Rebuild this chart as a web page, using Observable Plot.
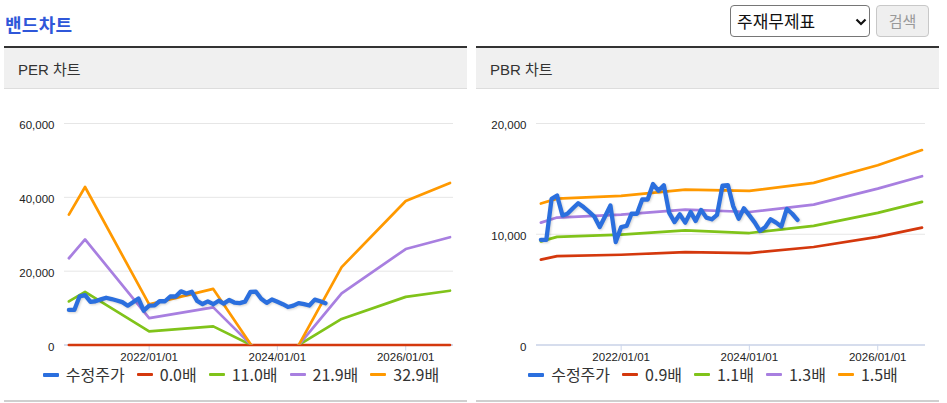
<!DOCTYPE html>
<html><head><meta charset="utf-8">
<script src="https://cdn.jsdelivr.net/npm/d3@7"></script>
<script src="https://cdn.jsdelivr.net/npm/@observablehq/plot@0.6"></script>
<style>
body{margin:0;width:947px;height:403px;position:relative;overflow:hidden;background:#fff;font-family:"Noto Sans CJK KR","Noto Sans",sans-serif;}
.title{position:absolute;left:5px;top:9px;font-size:18px;font-weight:bold;color:#2f57d9;line-height:30px;letter-spacing:0.3px}
.sel{position:absolute;left:730px;top:5px;width:138px;height:30px;border:1px solid #767676;border-radius:4px;box-sizing:content-box;font-size:17px;line-height:30px;color:#111;}
.sel span{position:absolute;left:6px;top:0}
.sel svg{position:absolute;left:124px;top:12px}
.btn{position:absolute;left:876px;top:5px;width:51px;height:30px;border:1px solid #c8c8c8;border-radius:4px;background:#efefef;color:#999;font-size:15px;line-height:30px;text-align:center;box-sizing:content-box}
.panel{position:absolute;top:46px;width:463px;height:354px;border-bottom:2px solid #cfcfcf}
.phead{height:40px;border-top:2px solid #333;background:#f0f0f0;border-bottom:1px solid #ddd;font-size:15px;color:#333;line-height:43px;padding-left:14px;font-family:"Liberation Sans","Noto Sans CJK KR",sans-serif}
.chart{position:absolute;left:0;top:43px}
.legend{position:absolute;left:0;top:320px;width:463px;height:17px;display:flex;justify-content:center;align-items:center;padding-left:11px;box-sizing:border-box;font-size:16px;color:#333;line-height:17px;white-space:nowrap}
.legend .it{display:flex;align-items:center;margin-right:12px;height:17px}
.legend .it:last-child{margin-right:0}
.legend i{display:inline-block;width:16px;height:3px;margin-right:7px;border-radius:1px}
</style>
</head><body>
<div class="title">밴드차트</div>
<div class="sel"><span>주재무제표</span><svg width="12" height="8" viewBox="0 0 12 8"><path d="M1.5 1.5 L6 6 L10.5 1.5" fill="none" stroke="#111" stroke-width="2.2"/></svg></div>
<div class="btn">검색</div>
<div class="panel" id="p1" style="left:4px"><div class="phead">PER 차트</div><div class="chart" id="c1"></div><div class="legend" id="l1"></div></div>
<div class="panel" id="p2" style="left:476px"><div class="phead">PBR 차트</div><div class="chart" id="c2"></div><div class="legend" id="l2"></div></div>
<script>
// ---- data ----
const priceMonths = ["2020-10","2020-11","2020-12",
 "2021-01","2021-02","2021-03","2021-04","2021-05","2021-06","2021-07","2021-08","2021-09","2021-10","2021-11","2021-12",
 "2022-01","2022-02","2022-03","2022-04","2022-05","2022-06","2022-07","2022-08","2022-09","2022-10","2022-11","2022-12",
 "2023-01","2023-02","2023-03","2023-04","2023-05","2023-06","2023-07","2023-08","2023-09","2023-10","2023-11","2023-12",
 "2024-01","2024-02","2024-03","2024-04","2024-05","2024-06","2024-07","2024-08","2024-09","2024-10"];
const priceVals = [9500,9500,13200,13500,11700,11850,12350,12800,12450,12050,11600,10650,11600,12600,9300,
 10650,10750,11850,11850,13140,13140,14530,13930,14430,11950,11100,11800,
 11050,12000,11200,12200,11500,11350,11750,14380,14430,12540,11400,12340,
 11700,11050,10300,10650,11350,11050,10700,12290,11850,11300];

const bandDates = ["2020-10-01","2021-01-01","2022-01-01","2023-01-01","2024-01-01","2025-01-01","2026-01-01","2026-09-10"];

const perLabels = ["수정주가","0.0배","11.0배","21.9배","32.9배"];
const per00  = [0,0,0,0,0,0,0,0];
const per110 = [11800,14400,3700,5050,-3500,7060,13030,14700];
const per219 = [23500,28600,7300,10200,-7000,14000,26000,29200];
const per329 = [35300,42800,11000,15200,-10500,21100,39000,43900];

const pbrLabels = ["수정주가","0.9배","1.1배","1.3배","1.5배"];
const pbr09 = [7710,8030,8150,8390,8300,8850,9760,10600];
const pbr11 = [9360,9760,9970,10350,10110,10750,11930,12920];
const pbr13 = [11050,11510,11780,12230,12010,12680,14120,15240];
const pbr15 = [12770,13220,13460,14030,13920,14640,16230,17600];

const perTicks = [0,20000,40000,60000];
const pbrTicks = [0,10000,20000];
const xTicks = ["2022-01-01","2024-01-01","2026-01-01"];
const xDomain = ["2020-09-06","2026-09-30"];
const colors = ["#2b6fde","#d4380d","#80c31a","#a87fe0","#ff9900"];

// ---- chart ----
function chart(bands, labels, yTicks) {
  const price = priceMonths.map((m,i)=>({date:new Date(m+"-01"), value:priceVals[i]}));
  const rows = bands.flatMap((vals,k)=>vals.map((v,i)=>({date:new Date(bandDates[i]), value:v, key:labels[k+1]})));
  const base = rows.filter(d=>d.key===labels[1]);
  const rest = rows.filter(d=>d.key!==labels[1]);
  const svg = Plot.plot({
    width:463, height:277, marginLeft:60, marginRight:14, marginTop:34, marginBottom:21.5,
    style:{fontFamily:"'Liberation Sans',Arial,sans-serif", fontSize:"11.5px", color:"#333", background:"transparent", overflow:"visible"},
    x:{type:"utc", domain:xDomain.map(d=>new Date(d))},
    y:{domain:[0, yTicks[yTicks.length-1]]},
    color:{domain:labels, range:colors},
    marks:[
      Plot.gridY(yTicks, {stroke:"#e6e6e6", strokeOpacity:1, strokeWidth:1}),
      Plot.ruleY([0], {stroke:"#ccd6eb", strokeWidth:1.5}),
      Plot.axisX(xTicks.map(d=>new Date(d)), {tickFormat:d3.utcFormat("%Y/%m/%d"), tickSize:6, tickPadding:2, stroke:"#ccd6eb", fill:"#222", label:null}),
      Plot.axisY(yTicks, {tickFormat:d3.format(","), tickSize:0, tickPadding:10, fill:"#222", label:null, dy:2}),
      Plot.lineY(base, {x:"date", y:"value", stroke:"key", strokeWidth:2.7}),
      Plot.lineY(rest, {x:"date", y:"value", z:"key", stroke:"key", strokeWidth:2.7, clip:true}),
      Plot.lineY(price, {x:"date", y:"value", stroke:colors[0], strokeWidth:4.3, strokeLinejoin:"round", strokeLinecap:"round", className:"price"})
    ]
  });
  svg.querySelectorAll(".price path").forEach(p=>p.style.filter="drop-shadow(1px 1px 1px rgba(0,0,0,0.18))");
  return svg;
}
function legend(el, labels) {
  el.innerHTML = labels.map((l,i)=>`<span class="it"><i style="background:${colors[i]};height:${i===0?4:3}px"></i>${l}</span>`).join("");
}
document.getElementById("c1").appendChild(chart([per00,per110,per219,per329], perLabels, perTicks));
document.getElementById("c2").appendChild(chart([pbr09,pbr11,pbr13,pbr15], pbrLabels, pbrTicks));
legend(document.getElementById("l1"), perLabels);
legend(document.getElementById("l2"), pbrLabels);
</script>
</body></html>
